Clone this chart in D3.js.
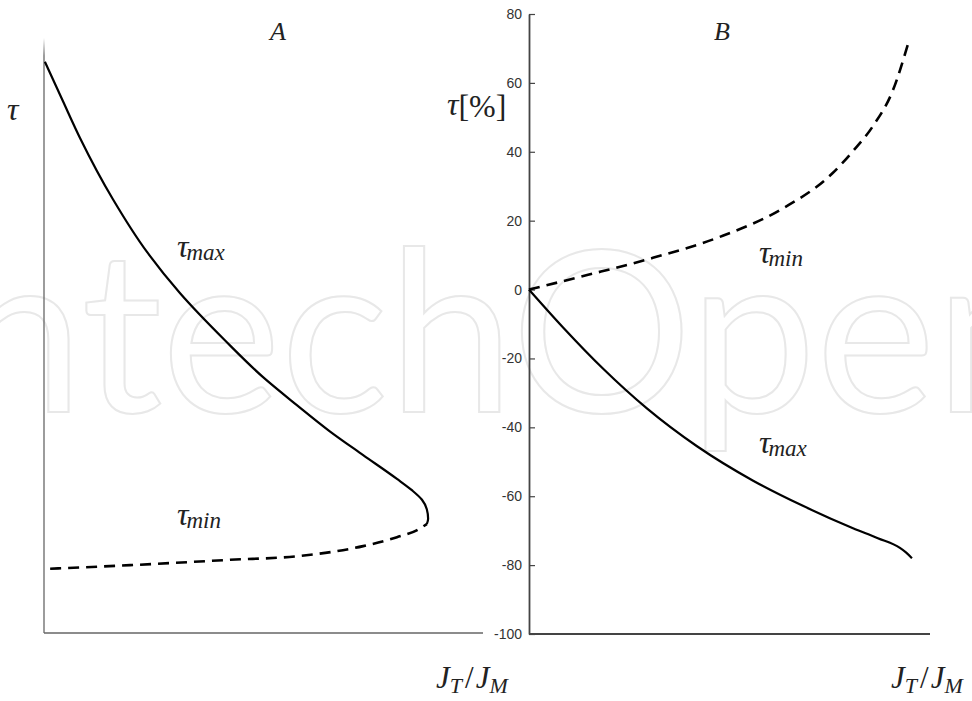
<!DOCTYPE html>
<html>
<head>
<meta charset="utf-8">
<script src="https://cdn.jsdelivr.net/npm/d3@7"></script>
<style>
  body { margin: 0; background: #fff; }
  svg { display: block; }
</style>
</head>
<body>
<div class="chart"></div>
<script>
// values (panel A has no scale, so 0..1 units)
var tauMaxA = [[0.002, 0.96], [0.043, 0.894], [0.082, 0.832], [0.157, 0.729], [0.235, 0.64],
    [0.31, 0.571], [0.412, 0.492], [0.499, 0.43], [0.576, 0.383], [0.651, 0.339],
    [0.727, 0.299], [0.804, 0.259], [0.838, 0.24], [0.861, 0.224], [0.872, 0.208],
    [0.875, 0.192], [0.872, 0.183]]
var tauMinA = [[0.014, 0.108], [0.196, 0.114], [0.424, 0.123], [0.576, 0.129], [0.727, 0.146],
    [0.804, 0.161], [0.85, 0.173], [0.872, 0.183]]
var tauMinB = [[0, 0], [0.145, 4.2], [0.309, 9.2], [0.476, 15.3], [0.626, 23.1],
    [0.758, 33.9], [0.808, 40.2], [0.858, 47.5], [0.908, 58], [0.945, 71.2]]
var tauMaxB = [[0, 0], [0.085, -11], [0.185, -23], [0.294, -34.5], [0.419, -45.5],
    [0.559, -55.5], [0.683, -62.8], [0.808, -69.3], [0.87, -72.2], [0.925, -75],
    [0.94, -76.3], [0.955, -78]]
var ticksB = [80, 60, 40, 20, 0, -20, -40, -60, -80, -100]

var serif = "'Liberation Serif', 'DejaVu Serif', serif"

var svg = d3.select(".chart")
    .append("svg")
    .attr("width", 972)
    .attr("height", 701)

//watermark
svg.append("text")
    .attr("x", -104)
    .attr("y", 412)
    .attr("font-family", "Lato, 'Open Sans', sans-serif")
    .attr("font-size", 226)
    .attr("textLength", 1165)
    .attr("lengthAdjust", "spacing")
    .attr("fill", "none")
    .attr("stroke", "#e8e8e8")
    .attr("stroke-width", 2)
    .text("IntechOpen")

var xA = d3.scaleLinear().domain([0, 1]).range([44, 483])
var yA = d3.scaleLinear().domain([0, 1]).range([633, 38])
var xB = d3.scaleLinear().domain([0, 1]).range([529, 930])
var yB = d3.scaleLinear().domain([-100, 80]).range([634, 14])

var grad = svg.append("defs").append("linearGradient")
    .attr("id", "fade")
    .attr("gradientUnits", "userSpaceOnUse")
    .attr("x1", 0).attr("y1", yA(1))
    .attr("x2", 0).attr("y2", yA(0.97))
grad.append("stop").attr("offset", 0).attr("stop-color", "#fff")
grad.append("stop").attr("offset", 1).attr("stop-color", "#666")

//Panel A axes
svg.append("line")
    .attr("x1", xA(0)).attr("x2", xA(0))
    .attr("y1", yA(1)).attr("y2", yA(0))
    .attr("stroke", "url(#fade)")
    .attr("stroke-width", 1.3)
svg.append("line")
    .attr("x1", xA(0)).attr("x2", xA(1))
    .attr("y1", yA(0)).attr("y2", yA(0))
    .attr("stroke", "#666")
    .attr("stroke-width", 1.6)

//Panel B axes
var axisB = svg.append("g")
    .attr("transform", "translate(" + xB(0) + ",0)")
    .call(d3.axisLeft(yB)
        .tickValues(ticksB)
        .tickSizeInner(-6)
        .tickSizeOuter(0)
        .tickPadding(7))
axisB.select(".domain").attr("stroke", "#444").attr("stroke-width", 1.8)
axisB.selectAll(".tick line").attr("stroke", "#444").attr("stroke-width", 1.2)
axisB.selectAll(".tick text")
    .attr("font-family", "'Liberation Sans', Arial, sans-serif")
    .attr("font-size", 14)
    .attr("fill", "#333")
    .text(function(d) { return d })

svg.append("line")
    .attr("x1", xB(0)).attr("x2", xB(1))
    .attr("y1", yB(-100)).attr("y2", yB(-100))
    .attr("stroke", "#444")
    .attr("stroke-width", 1.8)

//Curves
function lineFor(x, y, curve) {
    return d3.line()
        .x(function(d) { return x(d[0]) })
        .y(function(d) { return y(d[1]) })
        .curve(curve)
}

svg.append("path").datum(tauMaxA)
    .attr("d", lineFor(xA, yA, d3.curveMonotoneY))
    .attr("fill", "none").attr("stroke", "#000").attr("stroke-width", 2.2)
svg.append("path").datum(tauMinA)
    .attr("d", lineFor(xA, yA, d3.curveMonotoneX))
    .attr("fill", "none").attr("stroke", "#000").attr("stroke-width", 2.6)
    .attr("stroke-dasharray", "11,7")
svg.append("path").datum(tauMaxB)
    .attr("d", lineFor(xB, yB, d3.curveMonotoneX))
    .attr("fill", "none").attr("stroke", "#000").attr("stroke-width", 2.2)
svg.append("path").datum(tauMinB)
    .attr("d", lineFor(xB, yB, d3.curveMonotoneX))
    .attr("fill", "none").attr("stroke", "#000").attr("stroke-width", 2.6)
    .attr("stroke-dasharray", "11,7")

//Labels
function italic(x, y, size) {
    return svg.append("text")
        .attr("x", x)
        .attr("y", y)
        .attr("font-family", serif)
        .attr("font-style", "italic")
        .attr("font-size", size)
        .attr("fill", "#222")
}

function tauLabel(x, y, sub) {
    var t = italic(x, y, 32)
    t.append("tspan").text("τ")
    t.append("tspan").attr("font-size", 23).attr("dx", -2).attr("dy", 3).text(sub)
}

function ratioLabel(x, y) {
    var t = italic(x, y, 31)
    t.append("tspan").text("J")
    t.append("tspan").attr("font-size", 22).attr("dy", 5).text("T")
    t.append("tspan").attr("font-style", "normal").attr("dy", -5).attr("dx", 3).text("/")
    t.append("tspan").attr("dx", 2).text("J")
    t.append("tspan").attr("font-size", 22).attr("dy", 5).text("M")
}

italic(278, 40, 26).attr("text-anchor", "middle").text("A")
italic(722, 40, 26).attr("text-anchor", "middle").text("B")
italic(7, 120, 32).text("τ")

var tp = italic(447, 115, 32)
tp.append("tspan").text("τ")
tp.append("tspan").attr("font-style", "normal").attr("font-size", 32).attr("dy", 2).text("[%]")

tauLabel(177, 257, "max")
tauLabel(177, 525, "min")
tauLabel(759, 263, "min")
tauLabel(759, 453, "max")

ratioLabel(436, 688)
ratioLabel(891, 688)
</script>
</body>
</html>
